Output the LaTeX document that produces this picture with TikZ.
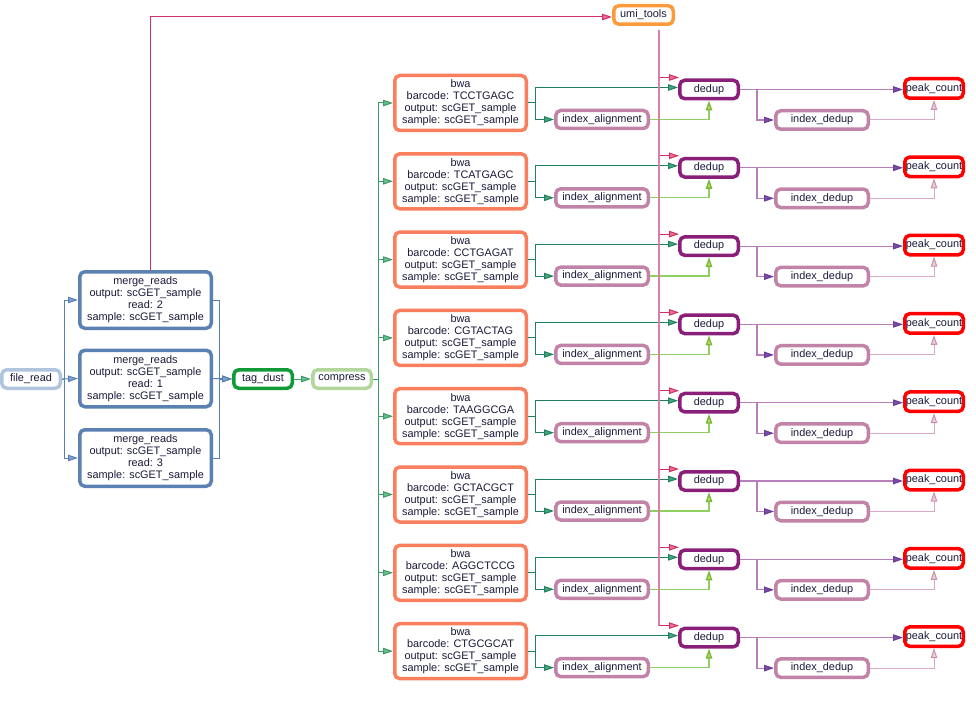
\documentclass[tikz,border=0pt]{standalone}
\usepackage{fontspec}
\setmainfont{Liberation Sans}
\usetikzlibrary{arrows.meta}
\definecolor{txt}{HTML}{1A1A3A}
\definecolor{cfr}{HTML}{B0C4DE}
\definecolor{cmr}{HTML}{5B80B2}
\definecolor{ctd}{HTML}{109A38}
\definecolor{ccp}{HTML}{B2D69B}
\definecolor{cbwa}{HTML}{FA7F5E}
\definecolor{cia}{HTML}{C283A8}
\definecolor{cdd}{HTML}{8A1F7A}
\definecolor{cumi}{HTML}{FF9A3C}
\definecolor{cpk}{HTML}{FF0000}
\definecolor{esteel}{HTML}{5B7FB0}
\definecolor{esteelf}{HTML}{7FA2D4}
\definecolor{ered}{HTML}{D0306A}
\definecolor{eredf}{HTML}{F07090}
\definecolor{epink}{HTML}{D880A8}
\definecolor{egreen}{HTML}{3A9A6A}
\definecolor{egreenf}{HTML}{6AC08A}
\definecolor{eteal}{HTML}{1F8060}
\definecolor{etealf}{HTML}{4AA57A}
\definecolor{elime}{HTML}{90D060}
\definecolor{elimef}{HTML}{C0E050}
\definecolor{elimeo}{HTML}{78B840}
\definecolor{emauve}{HTML}{B87DBB}
\definecolor{epurf}{HTML}{7A50A8}
\definecolor{epuro}{HTML}{6A3D9A}
\definecolor{elpink}{HTML}{D8A8C8}
\definecolor{elpinkf}{HTML}{ECCADC}
\definecolor{elpinko}{HTML}{C890B0}
\begin{document}
\begin{tikzpicture}[x=1pt,y=-1pt,
  box/.style={draw,line width=3.5pt,rounded corners=5pt,fill=white,inner sep=0pt,
    align=center,font=\fontsize{10.9}{12}\selectfont,text=txt},
  small/.style={box,minimum width=58.5pt,minimum height=18.5pt},
  wide/.style={box,minimum width=92.5pt,minimum height=18pt},
  big/.style={box,minimum width=131.5pt,minimum height=55pt},
  tipx/.style 2 args={-{Triangle[length=10pt,width=6.5pt,color=#1,fill=#2]}},
  fredge/.style={line width=1pt,esteel,tipx={esteel}{esteelf}},
  umiedge/.style={line width=1pt,ered,tipx={ered}{eredf}},
  grnedge/.style={line width=1pt,egreen,tipx={egreen}{egreenf}},
  tealedge/.style={line width=1pt,eteal,tipx={eteal}{etealf}},
  limeedge/.style={line width=1.4pt,elime,tipx={elimeo}{elimef}},
  puredge/.style={line width=1.2pt,emauve,tipx={epuro}{epurf}},
  lpedge/.style={line width=1pt,elpink,tipx={elpinko}{elpinkf}},
  trunk/.style={line width=1.2pt,epink},
]
\useasboundingbox (0,0) rectangle (976,703);

\node[small,draw=cfr] (fr) at (31,379) {file\_read};
\node[big,draw=cmr,minimum height=56.5pt] (m1) at (145.5,300) {merge\_reads\\output: scGET\_sample\\read: 2\\sample: scGET\_sample};
\node[big,draw=cmr,minimum height=56.5pt] (m2) at (145.5,378.5) {merge\_reads\\output: scGET\_sample\\read: 1\\sample: scGET\_sample};
\node[big,draw=cmr,minimum height=56.5pt] (m3) at (145.5,458) {merge\_reads\\output: scGET\_sample\\read: 3\\sample: scGET\_sample};
\node[small,draw=ctd] (td) at (263,379) {tag\_dust};
\node[small,draw=ccp] (cp) at (342,379) {compress};
\node[small,draw=cumi,minimum width=59.5pt] (umi) at (643.5,15) {umi\_tools};

\draw[fredge] (fr.east) -- ++(2,0) |- (m1.west);
\draw[fredge] (fr.east) -- (m2.west);
\draw[fredge] (fr.east) -- ++(2,0) |- (m3.west);
\draw[fredge] (m1.east) -- ++(6,0) |- (td.west);
\draw[fredge] (m2.east) -- (td.west);
\draw[fredge] (m3.east) -- ++(6,0) |- (td.west);
\draw[umiedge] ([xshift=4.5pt]m1.north) |- ([yshift=-2pt]umi.west);
\draw[grnedge] (td.east) -- (cp.east -| cp.west);

\foreach \k/\bc in {0/TCCTGAGC,1/TCATGAGC,2/CCTGAGAT,3/CGTACTAG,4/TAAGGCGA,5/GCTACGCT,6/AGGCTCCG,7/CTGCGCAT}{
  \pgfmathsetmacro{\yb}{103+78.3*\k}
  \pgfmathsetmacro{\yi}{119.5+78.3*\k}
  \pgfmathsetmacro{\yd}{89.5+78.3*\k}
  \pgfmathsetmacro{\yp}{88.5+78.3*\k}
  \pgfmathsetmacro{\yid}{120+78.3*\k}
  \node[big,draw=cbwa] (b\k) at (460.5,\yb) {bwa\\barcode: \bc\\output: scGET\_sample\\sample: scGET\_sample};
  \node[wide,draw=cia] (ia\k) at (602,\yi) {index\_alignment};
  \node[small,draw=cdd] (d\k) at (709,\yd) {dedup};
  \node[small,draw=cpk,minimum height=19.5pt] (p\k) at (934,\yp) {peak\_count};
  \node[wide,draw=cia,minimum height=18.5pt] (id\k) at (822,\yid) {index\_dedup};
  \draw[grnedge] (cp.east) -- ++(5,0) |- (b\k.west);
  \draw[trunk] ([xshift=15.5pt,yshift=-4pt]umi.south) |- ([xshift=-19pt,yshift=12pt]d\k.west);
  \draw[umiedge] ([xshift=-19pt,yshift=12pt]d\k.west) -- ([xshift=1pt,yshift=12pt]d\k.west);
  \draw[tealedge] (b\k.east) -- ++(7,0) |- ([yshift=2pt]d\k.west);
  \draw[tealedge] (b\k.east) -- ++(7,0) |- (ia\k.west);
  \draw[limeedge] (ia\k.east) -| (d\k.south);
  \draw[puredge] (d\k.east) -- (d\k.east -| p\k.west);
  \draw[puredge] (d\k.east) -- ++(17,0) |- (id\k.west);
  \draw[lpedge] (id\k.east) -| (p\k.south);
}
\end{tikzpicture}
\end{document}
